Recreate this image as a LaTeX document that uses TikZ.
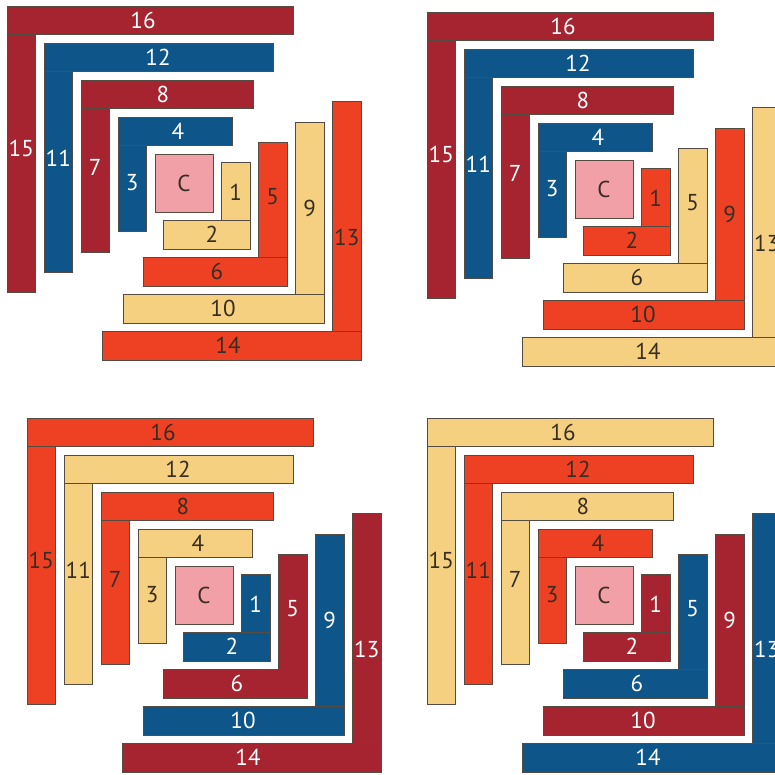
\documentclass[tikz,border=0pt]{standalone}
\usepackage{fontspec}
\setmainfont{PT Sans}
\definecolor{qred}{RGB}{166,36,47}
\definecolor{qblue}{RGB}{14,86,137}
\definecolor{qorange}{RGB}{238,65,36}
\definecolor{qyellow}{RGB}{245,208,128}
\definecolor{qpink}{RGB}{242,160,168}
\definecolor{qline}{RGB}{85,75,65}
\definecolor{qdark}{RGB}{55,45,35}
\colorlet{qredtext}{white}
\colorlet{qbluetext}{white}
\colorlet{qorangetext}{qdark}
\colorlet{qyellowtext}{qdark}
\colorlet{qpinktext}{qdark}
\tikzset{
  strip/.style={draw=qline, line width=0.9pt},
  lbl/.style={inner sep=0pt, font=\fontsize{23}{23}\selectfont},
}
\newcommand{\qblock}[7]{%
\begin{scope}[shift={(#2,#3)}]
  \filldraw[strip, fill=qpink] (-29,-29) rectangle (29,29);
  \node[lbl, text=qpinktext] (#1-C) at (0,0) {C};
  \foreach \k/\ya/\xb/\yc/\xd in {1/9/28/0/-6, 2/14/33/-16/-21, 3/25/39/-25/-26, 4/54/44/-35/-41} {
    \pgfmathsetmacro{\a}{37.5+37*(\k-1)}
    \pgfmathsetmacro{\b}{\a+28.5}
    \pgfmathsetmacro{\m}{\a+14.25}
    \pgfmathsetmacro{\c}{20.3*\k}
    \pgfmathsetmacro{\d}{\c+28.5}
    \pgfmathtruncatemacro{\na}{4*\k-3}
    \pgfmathtruncatemacro{\nb}{4*\k-2}
    \pgfmathtruncatemacro{\nc}{4*\k-1}
    \pgfmathtruncatemacro{\nd}{4*\k}
    \ifodd\k\relax \def\lc{#4}\def\dc{#6}\else \def\lc{#5}\def\dc{#7}\fi
    % light side: right vertical, bottom horizontal
    \filldraw[strip, fill=\lc] (\a,-\c) rectangle (\b,\a);
    \filldraw[strip, fill=\lc] (-\c,\a) rectangle (\b,\b);
    \node[lbl, text=\lc text] (#1-\na) at (\m,\ya) {\na};
    \node[lbl, text=\lc text] (#1-\nb) at (\xb,\m) {\nb};
    % dark side: left vertical, top horizontal
    \filldraw[strip, fill=\dc] (-\b,-\a) rectangle (-\a,\d);
    \filldraw[strip, fill=\dc] (-\b,-\b) rectangle (\d,-\a);
    \node[lbl, text=\dc text] (#1-\nc) at (-\m,\yc) {\nc};
    \node[lbl, text=\dc text] (#1-\nd) at (\xd,-\m) {\nd};
  }
\end{scope}}
\begin{document}
\begin{tikzpicture}[x=1pt,y=-1pt]
  \useasboundingbox (0,0) rectangle (775,775);
  \clip (0,0) rectangle (775,775);
  \fill[white] (0,0) rectangle (775,775);
  \qblock{A}{184}{183}{qyellow}{qorange}{qblue}{qred}
  \qblock{B}{604}{189}{qorange}{qyellow}{qblue}{qred}
  \qblock{D}{204}{595}{qblue}{qred}{qyellow}{qorange}
  \qblock{E}{604}{595}{qred}{qblue}{qorange}{qyellow}
\end{tikzpicture}
\end{document}
